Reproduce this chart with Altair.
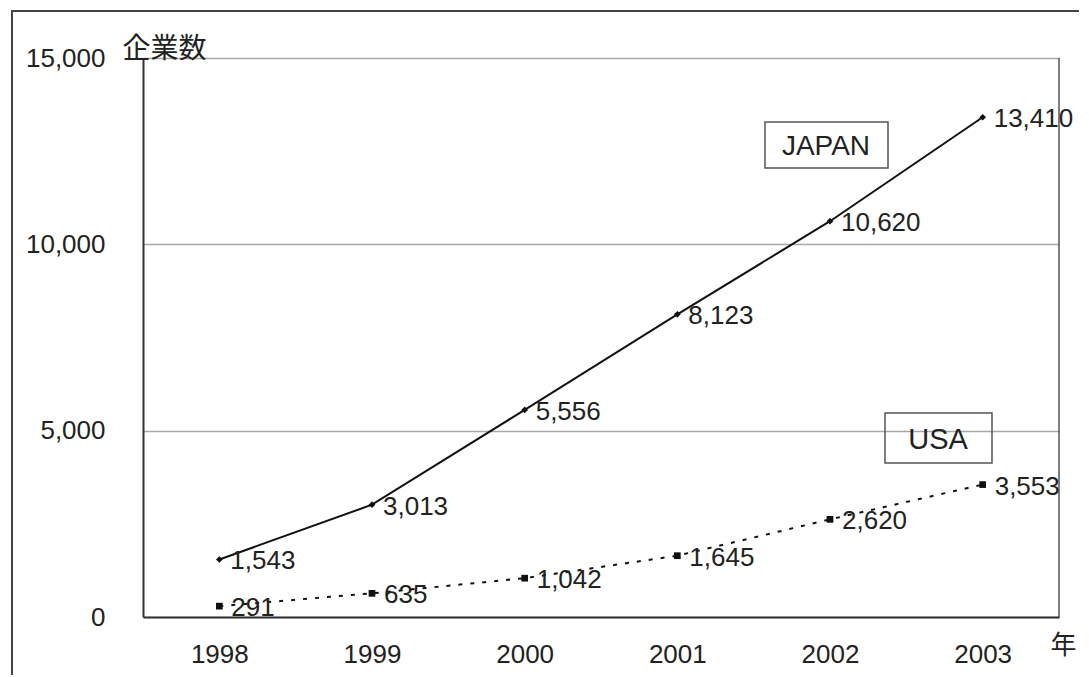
import altair as alt
import pandas as pd

years = ["1998", "1999", "2000", "2001", "2002", "2003"]
japan = [1543, 3013, 5556, 8123, 10620, 13410]
usa = [291, 635, 1042, 1645, 2620, 3553]
series_names = ["JAPAN", "USA"]
y_ticks = [0, 5000, 10000, 15000]

df = pd.DataFrame({
    "year": years * 2,
    "count": japan + usa,
    "series": [series_names[0]] * len(years) + [series_names[1]] * len(years),
})

NUM_FONT = "Liberation Sans"
JP_FONT = "Noto Sans CJK JP"
TXT = "#222222"

W, H = 916, 559

xenc = alt.X(
    "year:N", sort=years,
    scale=alt.Scale(type="point", domain=years, padding=0.5),
    axis=alt.Axis(
        title="年", titleAngle=0, titleX=907, titleY=28, titleAlign="left",
        titleBaseline="middle", titleFont=JP_FONT, titleFontSize=26,
        titleFontWeight="normal", titleColor=TXT,
        labelAngle=0, labelFont=NUM_FONT, labelFontSize=26, labelColor=TXT,
        labelPadding=24, ticks=False, domainColor="#333333", domainWidth=2,
        grid=False,
    ),
)
yenc = alt.Y(
    "count:Q",
    scale=alt.Scale(domain=[0, 15000], nice=False),
    axis=alt.Axis(
        values=y_ticks, labelExpr="format(datum.value, ',')",
        title="企業数", titleAngle=0, titleX=-21, titleY=-9, titleAlign="left",
        titleBaseline="middle", titleFont=JP_FONT, titleFontSize=28,
        titleFontWeight="normal", titleColor=TXT,
        labelFont=NUM_FONT, labelFontSize=26, labelColor=TXT, labelPadding=38,
        ticks=False, domainColor="#333333", domainWidth=2,
        grid=True, gridColor="#a8a8a8", gridWidth=1.5,
    ),
)

base = alt.Chart(df)
jp = base.transform_filter(alt.datum.series == series_names[0])
us = base.transform_filter(alt.datum.series == series_names[1])

jp_line = jp.mark_line(color="#111111", strokeWidth=2).encode(x=xenc, y=yenc)
jp_pts = jp.mark_point(shape="diamond", filled=True, size=45, color="#111111", opacity=1).encode(x=xenc, y=yenc)
jp_txt = jp.mark_text(align="left", baseline="middle", dx=11, dy=2, font=NUM_FONT, fontSize=26, color=TXT).encode(
    x=xenc, y=yenc, text=alt.Text("count:Q", format=","))

us_line = us.mark_line(color="#111111", strokeWidth=2, strokeDash=[4, 8]).encode(x=xenc, y=yenc)
us_pts = us.mark_point(shape="square", filled=True, size=45, color="#111111", opacity=1).encode(x=xenc, y=yenc)
us_txt = us.mark_text(align="left", baseline="middle", dx=12, dy=2, font=NUM_FONT, fontSize=26, color=TXT).encode(
    x=xenc, y=yenc, text=alt.Text("count:Q", format=","))

one = alt.Chart(pd.DataFrame({"k": [0]}))

right_border = one.mark_rule(color="#555555", strokeWidth=1.5).encode(
    x=alt.value(W), y=alt.value(0), y2=alt.value(H))

frame = one.mark_rect(fillOpacity=0, stroke="#444444", strokeWidth=2).encode(
    x=alt.value(-131), y=alt.value(-47), x2=alt.value(W + 200), y2=alt.value(H + 200))

jp_box = one.mark_rect(fillOpacity=0, stroke="#555555", strokeWidth=1.5).encode(
    x=alt.value(622), x2=alt.value(745), y=alt.value(64), y2=alt.value(110))
jp_box_txt = one.mark_text(align="center", baseline="middle", font=NUM_FONT, fontSize=28, color=TXT).encode(
    x=alt.value(683), y=alt.value(89), text=alt.value(series_names[0]))

us_box = one.mark_rect(fillOpacity=0, stroke="#555555", strokeWidth=1.5).encode(
    x=alt.value(742), x2=alt.value(849), y=alt.value(355), y2=alt.value(405))
us_box_txt = one.mark_text(align="center", baseline="middle", font=NUM_FONT, fontSize=29, color=TXT).encode(
    x=alt.value(795), y=alt.value(382), text=alt.value(series_names[1]))

chart = alt.layer(
    frame, right_border,
    jp_line, jp_pts, jp_txt,
    us_line, us_pts, us_txt,
    jp_box, jp_box_txt, us_box, us_box_txt,
).properties(
    width=W, height=H,
    padding={"left": 135, "top": 50, "right": 20, "bottom": 58},
    autosize=alt.AutoSizeParams(type="none"),
    background="white",
).configure_view(strokeWidth=0)

chart.save("out.html", embed_options={"renderer": "svg", "actions": False})
